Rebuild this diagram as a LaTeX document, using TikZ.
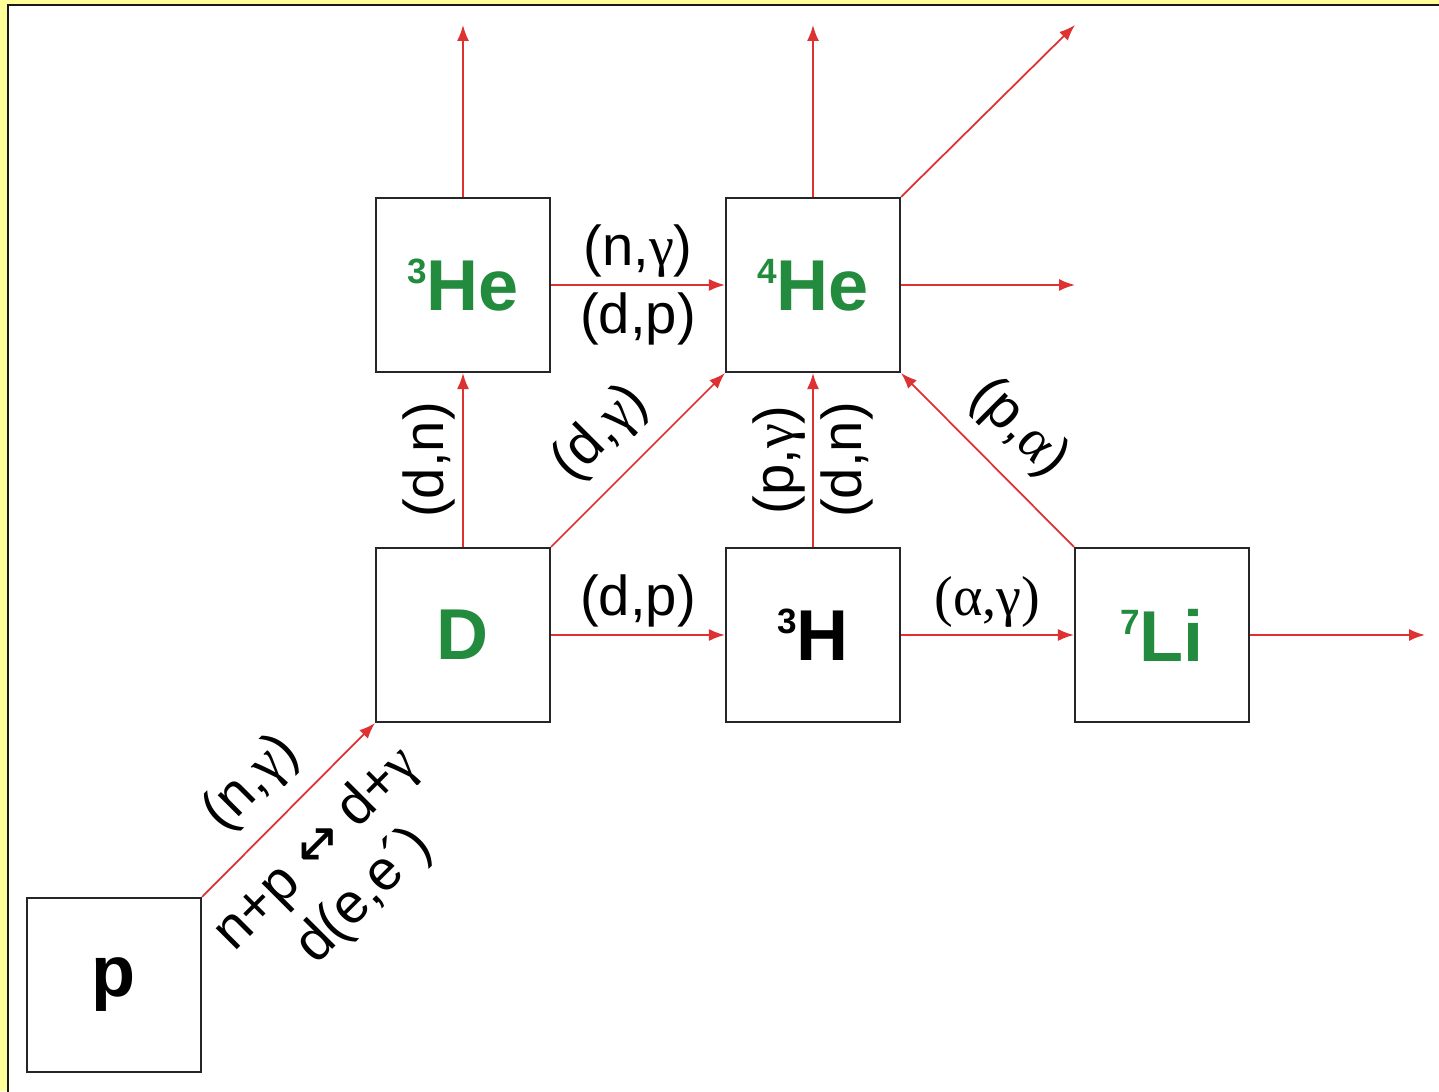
\documentclass[tikz,border=0pt]{standalone}
\usepackage{fontspec}
\setmainfont{Liberation Sans}
\newfontfamily\grk{Liberation Serif}
\newfontfamily\sym{DejaVu Sans}
\definecolor{nucgreen}{RGB}{34,139,62}
\definecolor{rxnred}{RGB}{222,50,50}
\definecolor{frameyellow}{RGB}{255,255,153}
\usetikzlibrary{arrows.meta}
\newcommand{\iso}[2]{\raisebox{0.375em}{\fontsize{20}{20}\selectfont #1}#2}

\begin{document}
\begin{tikzpicture}[
  box/.style={draw=black!85,line width=1.2pt,fill=white,minimum size=3.48cm,inner sep=0pt,font=\fontsize{41}{41}\selectfont\bfseries},
  rxn/.style={rxnred,line width=1pt,-{Latex[length=0.32cm,width=0.24cm]}},
  lbl/.style={font=\fontsize{32}{38}\selectfont,text=black,inner sep=4pt}]
  % frame
  \clip (0,0) rectangle (28.78,21.82);
  \fill[frameyellow] (0,0) rectangle (28.78,21.82);
  \filldraw[fill=white,draw=black!90,line width=1.5pt] (0.16,-1) rectangle (30,21.72);
  % nuclei
  \node[box] (p) at (2.28,2.12) {p};
  \node[box,text=nucgreen] (d) at (9.26,9.12) {D};
  \node[box] (h3) at (16.26,9.12) {\iso{3}{H}};
  \node[box,text=nucgreen] (li7) at (23.24,9.12) {\iso{7}{Li}};
  \node[box,text=nucgreen] (he3) at (9.26,16.12) {\iso{3}{He}};
  \node[box,text=nucgreen] (he4) at (16.26,16.12) {\iso{4}{He}};
  % open ends
  \coordinate (he3up) at (9.26,21.32);
  \coordinate (he4up) at (16.26,21.32);
  \coordinate (he4ne) at (21.5,21.32);
  \coordinate (he4out) at (21.5,16.12);
  \coordinate (li7out) at (28.5,9.12);
  % reactions
  \draw[rxn] (p.north east)--(d.south west)
    node[lbl,pos=0.47,rotate=45,anchor=south,inner sep=10pt]{(n,{\grk γ})}
    node[lbl,pos=0.47,rotate=45,anchor=north,align=center,inner sep=12pt]{n+p {\sym ↔} d+{\grk γ}\\d(e,e´)};
  \draw[rxn] (d.north)--(he3.south) node[lbl,midway,rotate=90,anchor=south]{(d,n)};
  \draw[rxn] (d.north east)--(he4.south west) node[lbl,pos=0.47,rotate=45,anchor=south,inner sep=10pt]{(d,{\grk γ})};
  \draw[rxn] (d.east)--(h3.west) node[lbl,midway,above]{(d,p)};
  \draw[rxn] (h3.north)--(he4.south)
    node[lbl,midway,rotate=90,anchor=south]{(p,{\grk γ})}
    node[lbl,midway,rotate=90,anchor=north]{(d,n)};
  \draw[rxn] (h3.east)--(li7.west) node[lbl,midway,above]{\grk (α,γ)};
  \draw[rxn] (li7.north west)--(he4.south east) node[lbl,midway,rotate=-45,anchor=south,inner sep=10pt]{(p,{\grk α})};
  \draw[rxn] (li7.east)--(li7out);
  \draw[rxn] (he3.east)--(he4.west)
    node[lbl,midway,above]{(n,{\grk γ})}
    node[lbl,midway,below]{(d,p)};
  \draw[rxn] (he3.north)--(he3up);
  \draw[rxn] (he4.north)--(he4up);
  \draw[rxn] (he4.east)--(he4out);
  \draw[rxn] (he4.north east)--(he4ne);
\end{tikzpicture}
\end{document}
